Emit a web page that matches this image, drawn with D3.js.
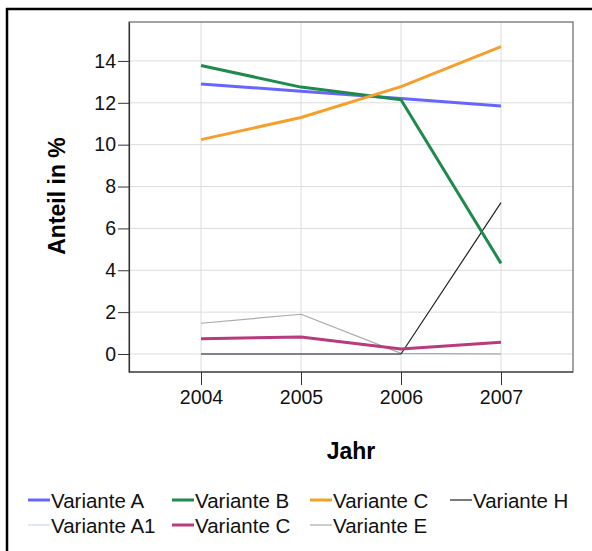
<!DOCTYPE html>
<html><head><meta charset="utf-8">
<script src="https://cdn.jsdelivr.net/npm/d3@7"></script>
<style>body{margin:0;background:#fff}svg{display:block}text{font-family:"Liberation Sans",Arial,sans-serif}</style>
</head><body><svg id="c" width="592" height="551"></svg>
<script>
const years = [2004, 2005, 2006, 2007];
const yTicks = [0, 2, 4, 6, 8, 10, 12, 14];
const seriesNames = ["Variante A", "Variante B", "Variante C", "Variante H", "Variante A1", "Variante C", "Variante E"];
const varA  = [12.9, 12.55, 12.2, 11.85];
const varB  = [13.78, 12.75, 12.15, 4.33];
const varC  = [10.24, 11.3, 12.77, 14.68];
const varH  = [0, 0, 0, 7.23];
const varA1 = [0, 0, 0, 0.02];
const varC2 = [0.73, 0.81, 0.24, 0.56];
const varE  = [1.47, 1.9, 0.03, 0];
const colors = ["#6666ff", "#1e8a4c", "#f5a02c", "#222222", "#c4daf0", "#b83b7d", "#aaaaaa"];
const widths = [3, 3, 3, 1.2, 1.2, 3, 1.2];
const values = [varA, varB, varC, varH, varA1, varC2, varE];
const drawOrder = [4, 6, 3, 5, 0, 1, 2];

const svg = d3.select("#c");
const L = 129, R = 573, T = 22, B = 372;
const x = d3.scaleLinear().domain([2003.28, 2007.72]).range([L, R]);
const y = d3.scaleLinear().domain([-0.86, 15.86]).range([B, T]);

// outer frame (top + left only visible)
svg.append("line").attr("x1", 7).attr("x2", 7).attr("y1", 8).attr("y2", 551).attr("stroke", "#000").attr("stroke-width", 2.5);
svg.append("line").attr("x1", 6).attr("x2", 592).attr("y1", 9).attr("y2", 9).attr("stroke", "#000").attr("stroke-width", 2.5);

// grid
const g = svg.append("g");
g.selectAll(".hg").data(yTicks).join("line")
  .attr("x1", L).attr("x2", R).attr("y1", d => y(d)).attr("y2", d => y(d))
  .attr("stroke", "#dcdcdc").attr("stroke-width", 1);
g.selectAll(".vg").data(years).join("line")
  .attr("x1", d => x(d)).attr("x2", d => x(d)).attr("y1", T).attr("y2", B)
  .attr("stroke", "#dcdcdc").attr("stroke-width", 1);

// plot frame
svg.append("rect").attr("x", L).attr("y", T).attr("width", R - L).attr("height", B - T)
  .attr("fill", "none").attr("stroke", "#666").attr("stroke-width", 1.2);

// axes
const yAxis = svg.append("g").attr("transform", `translate(${L},0)`)
  .call(d3.axisLeft(y).tickValues(yTicks).tickSize(11).tickPadding(2).tickSizeOuter(0));
const xAxis = svg.append("g").attr("transform", `translate(0,${B})`)
  .call(d3.axisBottom(x).tickValues(years).tickFormat(d3.format("d")).tickSize(13).tickPadding(5).tickSizeOuter(0));
[yAxis, xAxis].forEach(a => {
  a.select(".domain").attr("stroke", "#333").attr("stroke-width", 1.2);
  a.selectAll(".tick line").attr("stroke", "#333");
  a.selectAll(".tick text").attr("fill", "#111").style("font-size", "19.5px").style("font-family", "'Liberation Sans',Arial,sans-serif");
});
xAxis.select(".domain").attr("d", `M${L},0H${R}`);

// lines
const line = d3.line().x((d, i) => x(years[i])).y(d => y(d));
drawOrder.forEach(k => {
  svg.append("path").datum(values[k]).attr("d", line)
    .attr("fill", "none").attr("stroke", colors[k]).attr("stroke-width", widths[k])
    .attr("stroke-linejoin", "round");
});

// axis titles
svg.append("text").attr("transform", "translate(65,196) rotate(-90)").attr("text-anchor", "middle")
  .style("font-size", "23px").style("font-weight", "bold").attr("fill", "#000").text("Anteil in %");
svg.append("text").attr("x", 351).attr("y", 459).attr("text-anchor", "middle")
  .style("font-size", "23px").style("font-weight", "bold").attr("fill", "#000").text("Jahr");

// legend
const legX = [28, 172, 310, 450];
const legY = [508, 533];
seriesNames.forEach((n, i) => {
  const col = i % 4, row = Math.floor(i / 4);
  const gx = legX[col], gy = legY[row];
  svg.append("line").attr("x1", gx).attr("x2", gx + 22).attr("y1", gy - 8).attr("y2", gy - 8)
    .attr("stroke", colors[i]).attr("stroke-width", widths[i] === 3 ? 3 : 1.2);
  svg.append("text").attr("x", gx + 23).attr("y", gy).style("font-size", "20.5px").attr("fill", "#111").text(n);
});
</script></body></html>
